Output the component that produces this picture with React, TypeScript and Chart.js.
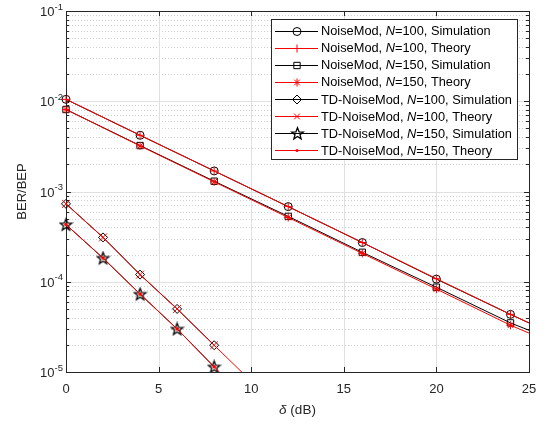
import React, { useEffect, useRef } from 'react';
import { Chart, registerables } from 'chart.js';

Chart.register(...registerables);

// ---------------- data ----------------
const noiseModDelta = [0, 4, 8, 12, 16, 20, 24, 25];
const noiseMod100Sim = [1.05e-2, 4.2e-3, 1.69e-3, 6.8e-4, 2.72e-4, 1.07e-4, 4.35e-5, 3.5e-5];
const noiseMod100Theory = [1.05e-2, 4.2e-3, 1.69e-3, 6.8e-4, 2.72e-4, 1.08e-4, 4.35e-5, 3.5e-5];
const noiseMod150Sim = [8.1e-3, 3.23e-3, 1.3e-3, 5.3e-4, 2.12e-4, 8.7e-5, 3.5e-5, 2.9e-5];
const noiseMod150Theory = [8.1e-3, 3.2e-3, 1.28e-3, 5.15e-4, 2.06e-4, 8.3e-5, 3.3e-5, 2.7e-5];

const tdDeltaSim = [0, 2, 4, 6, 8];
const tdDeltaTheory = [0, 2, 4, 6, 8, 10];
const td100Sim = [7.3e-4, 3.1e-4, 1.2e-4, 5.0e-5, 1.98e-5];
const td100Theory = [7.3e-4, 3.1e-4, 1.2e-4, 5.0e-5, 1.98e-5, 7.9e-6];
const td150Sim = [4.3e-4, 1.83e-4, 7.3e-5, 3.0e-5, 1.14e-5];
const td150Theory = [4.3e-4, 1.83e-4, 7.3e-5, 3.0e-5, 1.14e-5, 4.4e-6];

const legendLabels = [
  'NoiseMod, N=100, Simulation',
  'NoiseMod, N=100, Theory',
  'NoiseMod, N=150, Simulation',
  'NoiseMod, N=150, Theory',
  'TD-NoiseMod, N=100, Simulation',
  'TD-NoiseMod, N=100, Theory',
  'TD-NoiseMod, N=150, Simulation',
  'TD-NoiseMod, N=150, Theory',
];

const xTickValues = [0, 5, 10, 15, 20, 25];
const yTickExponents = [-5, -4, -3, -2, -1];
const yMinorMantissas = [2, 3, 4, 5, 6, 7, 8, 9];
const xAxisSymbol = 'δ';
const xAxisUnit = ' (dB)';
const yAxisTitle = 'BER/BEP';

// ---------------- styling ----------------
const FONT = '"Liberation Sans", Arial, Helvetica, sans-serif';
const AXIS_COLOR = '#262626';
const RED = '#ff0000';
const BLACK = '#000000';

function makePentagram(): HTMLCanvasElement {
  const c = document.createElement('canvas');
  c.width = 15;
  c.height = 15;
  const g = c.getContext('2d')!;
  const cx = 7.5, cy = 7.9, R = 6.2, r = R * 0.42;
  g.beginPath();
  for (let i = 0; i < 10; i++) {
    const rad = -Math.PI / 2 + (i * Math.PI) / 5;
    const rr = i % 2 === 0 ? R : r;
    const px = cx + rr * Math.cos(rad);
    const py = cy + rr * Math.sin(rad);
    if (i === 0) g.moveTo(px, py);
    else g.lineTo(px, py);
  }
  g.closePath();
  g.strokeStyle = BLACK;
  g.lineWidth = 1.3;
  g.lineJoin = 'miter';
  g.stroke();
  return c;
}

function drawMarker(ctx: CanvasRenderingContext2D, style: string, x: number, y: number, color: string, star?: HTMLCanvasElement) {
  ctx.save();
  ctx.strokeStyle = color;
  ctx.fillStyle = color;
  ctx.lineWidth = 1;
  ctx.beginPath();
  const r = 4;
  switch (style) {
    case 'circle':
      ctx.arc(x, y, r, 0, Math.PI * 2);
      ctx.stroke();
      break;
    case 'cross':
      ctx.moveTo(x - r, y); ctx.lineTo(x + r, y);
      ctx.moveTo(x, y - r); ctx.lineTo(x, y + r);
      ctx.stroke();
      break;
    case 'rect': {
      const h = 4.5 * Math.SQRT1_2;
      ctx.rect(x - h, y - h, 2 * h, 2 * h);
      ctx.stroke();
      break;
    }
    case 'star': {
      ctx.moveTo(x - r, y); ctx.lineTo(x + r, y);
      ctx.moveTo(x, y - r); ctx.lineTo(x, y + r);
      const d = r * Math.SQRT1_2;
      ctx.moveTo(x - d, y - d); ctx.lineTo(x + d, y + d);
      ctx.moveTo(x - d, y + d); ctx.lineTo(x + d, y - d);
      ctx.stroke();
      break;
    }
    case 'rectRot': {
      const q = 4.5;
      ctx.moveTo(x - q, y); ctx.lineTo(x, y - q); ctx.lineTo(x + q, y); ctx.lineTo(x, y + q);
      ctx.closePath();
      ctx.stroke();
      break;
    }
    case 'crossRot': {
      const d = r * Math.SQRT1_2;
      ctx.moveTo(x - d, y - d); ctx.lineTo(x + d, y + d);
      ctx.moveTo(x - d, y + d); ctx.lineTo(x + d, y - d);
      ctx.stroke();
      break;
    }
    case 'pentagram':
      if (star) ctx.drawImage(star, Math.round(x - star.width / 2), Math.round(y - star.height / 2));
      break;
    case 'dot':
      ctx.arc(x, y, 1.5, 0, Math.PI * 2);
      ctx.fill();
      break;
  }
  ctx.restore();
}

export default function App() {
  const canvasRef = useRef<HTMLCanvasElement | null>(null);

  useEffect(() => {
    if (!canvasRef.current) return;
    const pentagram = makePentagram();

    const markerStyles = ['circle', 'cross', 'rect', 'star', 'rectRot', 'crossRot', 'pentagram', 'dot'];
    const markerColors = [BLACK, RED, BLACK, RED, BLACK, RED, BLACK, RED];

    const toPts = (xs: number[], ys: number[]) => ys.map((y, i) => ({ x: xs[i], y }));

    const ds = (
      idx: number,
      xs: number[],
      ys: number[],
      pointStyle: any,
      radius: number,
      lastMarkerX: number,
      filled = false,
    ) => {
      const color = markerColors[idx];
      return {
        label: legendLabels[idx],
        data: toPts(xs, ys),
        borderColor: color,
        backgroundColor: filled ? color : 'rgba(0,0,0,0)',
        borderWidth: 1,
        pointStyle,
        pointBorderColor: color,
        pointBackgroundColor: filled ? color : 'rgba(0,0,0,0)',
        pointBorderWidth: 1,
        pointRadius: (c: any) => (c.raw && c.raw.x > lastMarkerX ? 0 : radius),
        pointHoverRadius: 0,
        tension: 0,
        fill: false,
        order: color === RED ? 1 : 2,
        clip: { left: 8, right: 0, top: 0, bottom: 0 },
      };
    };

    const datasets = [
      ds(0, noiseModDelta, noiseMod100Sim, 'circle', 4, 24),
      ds(1, noiseModDelta, noiseMod100Theory, 'cross', 4, 24),
      ds(2, noiseModDelta, noiseMod150Sim, 'rect', 4.5, 24),
      ds(3, noiseModDelta, noiseMod150Theory, 'star', 4, 24),
      ds(4, tdDeltaSim, td100Sim, 'rectRot', 4.5, 8),
      ds(5, tdDeltaTheory, td100Theory, 'crossRot', 5.6, 8),
      ds(6, tdDeltaSim, td150Sim, pentagram, 5, 8),
      ds(7, tdDeltaTheory, td150Theory, 'circle', 1.3, 8, true),
    ];

    const axesPlugin = {
      id: 'matlabAxes',
      beforeDatasetsDraw(chart: any) {
        const { ctx, chartArea: a, scales } = chart;
        const xs = scales.x, ys = scales.y;
        const L = a.left, R = a.right, T = a.top, B = a.bottom;
        const snap = (v: number) => Math.round(v) + 0.5;
        ctx.save();
        ctx.lineWidth = 1;
        // minor y grid (dotted)
        ctx.strokeStyle = '#cfcfcf';
        ctx.setLineDash([1, 2]);
        for (const e of yTickExponents) {
          if (e === -1) continue;
          for (const m of yMinorMantissas) {
            const py = snap(ys.getPixelForValue(m * Math.pow(10, e)));
            ctx.beginPath(); ctx.moveTo(L, py); ctx.lineTo(R, py); ctx.stroke();
          }
        }
        ctx.setLineDash([]);
        // major grid
        ctx.strokeStyle = '#e0e0e0';
        for (const t of xTickValues) {
          const px = snap(xs.getPixelForValue(t));
          ctx.beginPath(); ctx.moveTo(px, T); ctx.lineTo(px, B); ctx.stroke();
        }
        for (const e of yTickExponents) {
          const py = snap(ys.getPixelForValue(Math.pow(10, e)));
          ctx.beginPath(); ctx.moveTo(L, py); ctx.lineTo(R, py); ctx.stroke();
        }
        // ticks
        ctx.strokeStyle = AXIS_COLOR;
        const tl = 5, mtl = 3;
        for (const t of xTickValues) {
          const px = snap(xs.getPixelForValue(t));
          ctx.beginPath();
          ctx.moveTo(px, B); ctx.lineTo(px, B - tl);
          ctx.moveTo(px, T); ctx.lineTo(px, T + tl);
          ctx.stroke();
        }
        for (const e of yTickExponents) {
          const py = snap(ys.getPixelForValue(Math.pow(10, e)));
          ctx.beginPath();
          ctx.moveTo(L, py); ctx.lineTo(L + tl, py);
          ctx.moveTo(R, py); ctx.lineTo(R - tl, py);
          ctx.stroke();
          if (e === -1) continue;
          for (const m of yMinorMantissas) {
            const my = snap(ys.getPixelForValue(m * Math.pow(10, e)));
            ctx.beginPath();
            ctx.moveTo(L, my); ctx.lineTo(L + mtl, my);
            ctx.moveTo(R, my); ctx.lineTo(R - mtl, my);
            ctx.stroke();
          }
        }
        // box
        ctx.strokeStyle = AXIS_COLOR;
        ctx.strokeRect(snap(L), snap(T), Math.round(R) - Math.round(L), Math.round(B) - Math.round(T));
        ctx.restore();
      },
      afterDatasetsDraw(chart: any) {
        const { ctx, chartArea: a, scales } = chart;
        const xs = scales.x, ys = scales.y;
        ctx.save();
        ctx.fillStyle = AXIS_COLOR;
        // x tick labels
        ctx.font = `13px ${FONT}`;
        ctx.textAlign = 'center';
        ctx.textBaseline = 'alphabetic';
        for (const t of xTickValues) {
          ctx.fillText(String(t), xs.getPixelForValue(t), a.bottom + 21);
        }
        // y tick labels with superscripts
        ctx.textAlign = 'left';
        for (const e of yTickExponents) {
          const py = ys.getPixelForValue(Math.pow(10, e));
          ctx.font = `9.5px ${FONT}`;
          const sup = String(e);
          const supW = ctx.measureText(sup).width;
          ctx.font = `13px ${FONT}`;
          const baseW = ctx.measureText('10').width;
          const right = a.left - 3;
          ctx.fillText('10', right - supW - baseW, py + 5);
          ctx.font = `9.5px ${FONT}`;
          ctx.fillText(sup, right - supW, py - 1.5);
        }
        // x title
        ctx.font = `italic 13.5px ${FONT}`;
        const w1 = ctx.measureText(xAxisSymbol).width;
        ctx.font = `13.5px ${FONT}`;
        const w2 = ctx.measureText(xAxisUnit).width;
        const cx = (a.left + a.right) / 2;
        const x0 = cx - (w1 + w2) / 2;
        ctx.font = `italic 13.5px ${FONT}`;
        ctx.fillText(xAxisSymbol, x0, a.bottom + 42);
        ctx.font = `13.5px ${FONT}`;
        ctx.fillText(xAxisUnit, x0 + w1, a.bottom + 42);
        // y title
        ctx.save();
        ctx.translate(22, (a.top + a.bottom) / 2);
        ctx.rotate(-Math.PI / 2);
        ctx.textAlign = 'center';
        ctx.textBaseline = 'middle';
        ctx.font = `13px ${FONT}`;
        ctx.fillText(yAxisTitle, 0, 0);
        ctx.restore();

        // legend
        const bx = 271.5, by = 19.5, bw = 246, bh = 140;
        ctx.fillStyle = '#ffffff';
        ctx.fillRect(bx, by, bw, bh);
        ctx.strokeStyle = AXIS_COLOR;
        ctx.lineWidth = 1;
        ctx.strokeRect(bx, by, bw, bh);
        const rowH = 17.1;
        const y0 = 30.5;
        for (let i = 0; i < legendLabels.length; i++) {
          const ry = y0 + i * rowH;
          const color = markerColors[i];
          ctx.strokeStyle = color;
          ctx.beginPath();
          ctx.moveTo(275, Math.round(ry) + 0.5);
          ctx.lineTo(318, Math.round(ry) + 0.5);
          ctx.stroke();
          drawMarker(ctx, markerStyles[i], 297, Math.round(ry) + 0.5, color, pentagram);
          // text with italic N
          const label = legendLabels[i];
          const k = label.indexOf('N=');
          const pre = label.slice(0, k);
          const post = label.slice(k + 1);
          ctx.fillStyle = '#000000';
          let tx = 321;
          const tyb = ry + 4.6;
          ctx.font = `12.8px ${FONT}`;
          ctx.fillText(pre, tx, tyb);
          tx += ctx.measureText(pre).width;
          ctx.font = `italic 12.8px ${FONT}`;
          ctx.fillText('N', tx, tyb);
          tx += ctx.measureText('N').width;
          ctx.font = `12.8px ${FONT}`;
          ctx.fillText(post, tx, tyb);
        }
        ctx.restore();
      },
    };

    const chart = new Chart(canvasRef.current, {
      type: 'line',
      data: { datasets: datasets as any },
      options: {
        animation: false,
        responsive: false,
        events: [],
        layout: { padding: { left: 66, right: 16, top: 11, bottom: 52 } },
        plugins: { legend: { display: false }, tooltip: { enabled: false }, title: { display: false } },
        scales: {
          x: { type: 'linear', min: 0, max: 25, display: false },
          y: { type: 'logarithmic', min: 1e-5, max: 1e-1, display: false },
        },
      },
      plugins: [axesPlugin],
    });
    return () => chart.destroy();
  }, []);

  return (
    <div style={{ position: 'fixed', left: 0, top: 0, width: 545, height: 424, background: '#ffffff' }}>
      <canvas ref={canvasRef} width={545} height={424} />
    </div>
  );
}
